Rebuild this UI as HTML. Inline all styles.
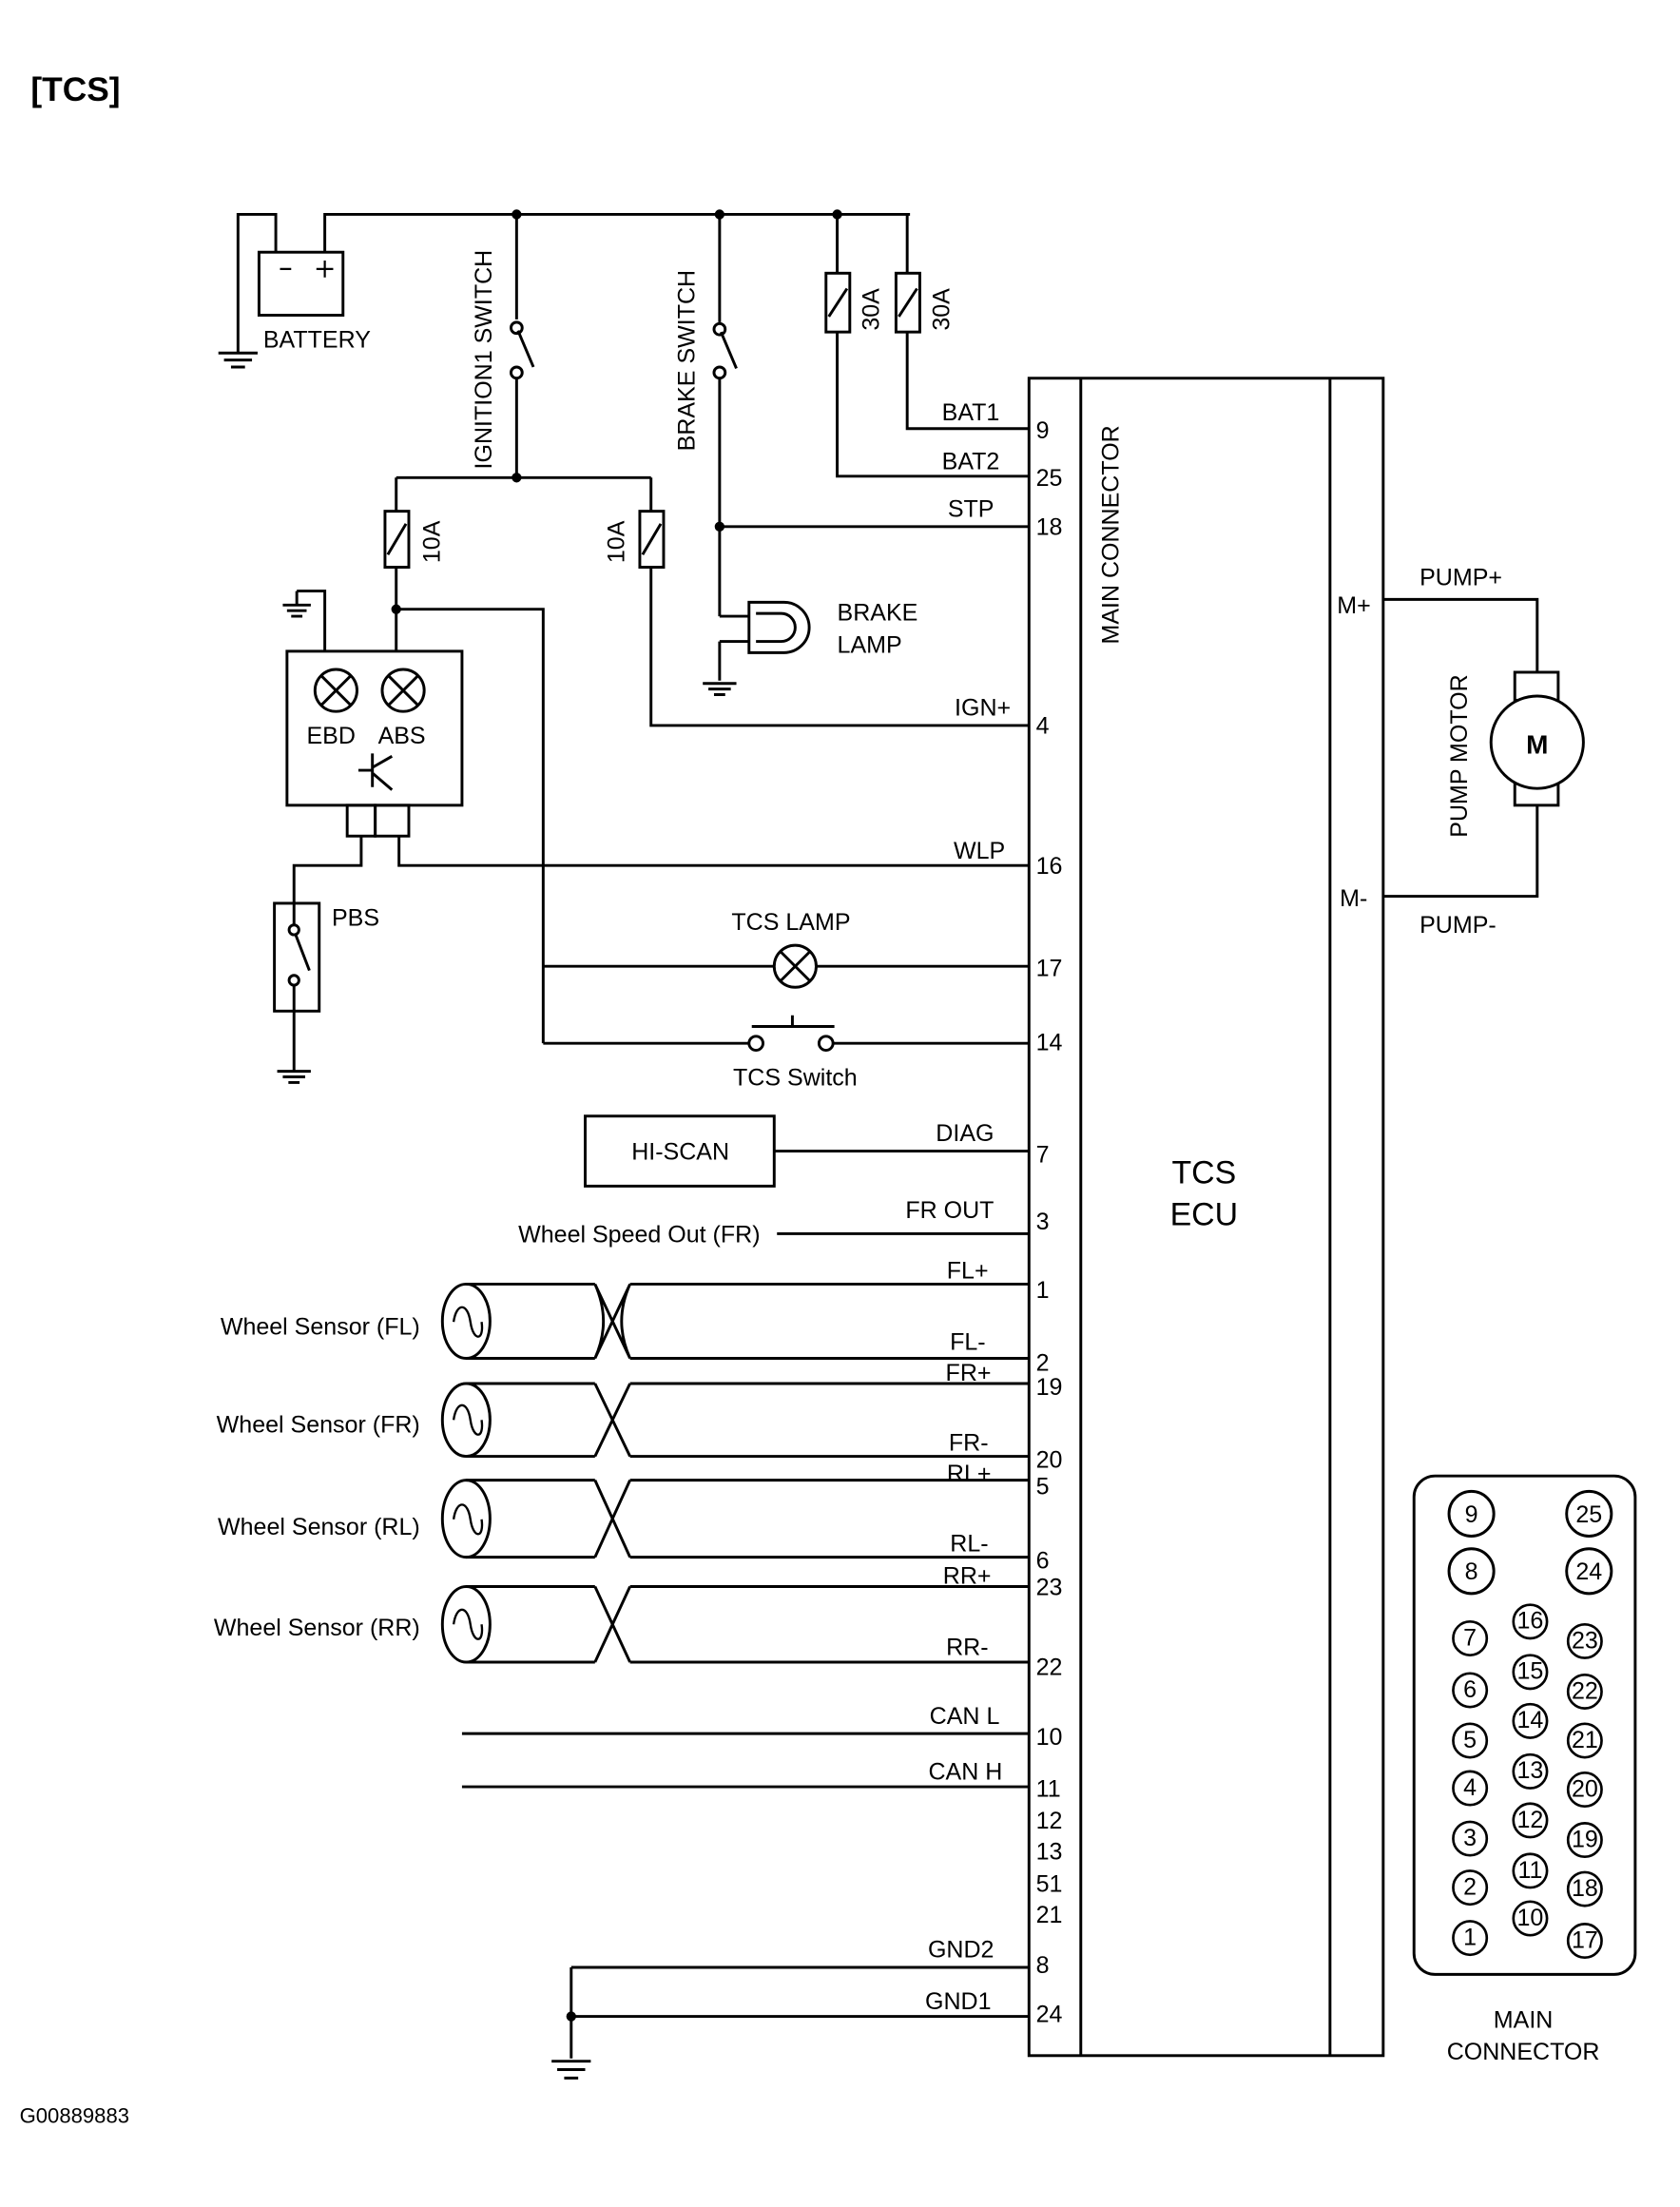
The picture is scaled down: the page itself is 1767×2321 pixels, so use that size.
<!DOCTYPE html>
<html><head><meta charset="utf-8"><style>
html,body{margin:0;padding:0;background:#fff;}
svg{display:block;}
text{font-family:"Liberation Sans",sans-serif;font-size:17px;fill:#000;}
</style></head><body>
<svg width="1767" height="2321" viewBox="0 0 1200 1576" xmlns="http://www.w3.org/2000/svg">
<g fill="none" stroke="#000" stroke-width="2">
<!-- battery -->
<rect x="185" y="180" width="60" height="45"/>
<path d="M170 252V153H197V180M232 180V153H650"/>
<path d="M156 252H184M160 257H180M165 262H175"/>
<path d="M200 192H208M226 192H238M232 186V198" stroke-width="1.5"/>
<!-- ignition switch -->
<path d="M369 153V228M369 270V341"/>
<circle cx="369" cy="234" r="4"/><circle cx="369" cy="266" r="4"/>
<path d="M370 236L381 262"/>
<!-- brake switch -->
<path d="M514 153V230M514 270V440M514 458V486"/>
<circle cx="514" cy="235" r="4"/><circle cx="514" cy="266" r="4"/>
<path d="M515 237L526 263"/>
<path d="M502 488H526M506 492H522M510 496H518"/>
<!-- brake lamp -->
<path d="M514 440H535M514 458H535"/>
<path d="M535 430H560A18 18 0 0 1 560 466H535Z"/>
<path d="M540 438H558A10 10 0 0 1 558 458H540"/>
<!-- 30A fuses -->
<path d="M598 153V195M598 237V340H735M648 153V195M648 237V306H735"/>
<rect x="590" y="195" width="17" height="42"/><rect x="640" y="195" width="17" height="42"/>
<path d="M592 226L605 206M642 226L655 206"/>
<!-- 10A fuses -->
<path d="M283 341H465M283 341V365M283 405V465M465 341V365M465 405V518H735"/>
<rect x="275" y="365" width="17" height="40"/><rect x="457" y="365" width="17" height="40"/>
<path d="M277 396L290 374M459 396L472 374"/>
<path d="M283 435H388V745"/>
<!-- STP -->
<path d="M514 376H735"/>
<!-- module -->
<rect x="205" y="465" width="125" height="110"/>
<path d="M232 465V422H212M212 422V432M202 432H222M205 436H219M208 440H216"/>
<circle cx="240" cy="493" r="15"/><circle cx="288" cy="493" r="15"/>
<path d="M229 482L251 504M251 482L229 504M277 482L299 504M299 482L277 504"/>
<path d="M256 550H266M266 538V562M266 548L280 540M266 552L280 564"/>
<rect x="248" y="575" width="20" height="22"/><rect x="268" y="575" width="24" height="22"/>
<path d="M285 597V618H735M258 597V618H210V645"/>
<!-- PBS -->
<rect x="196" y="645" width="32" height="77"/>
<path d="M210 645V660M210 704V765"/>
<circle cx="210" cy="664" r="3.5"/><circle cx="210" cy="700" r="3.5"/>
<path d="M211 667L221 693"/>
<path d="M198 765H222M202 769H218M206 773H214"/>
<!-- TCS lamp -->
<path d="M388 690H553M583 690H735"/>
<circle cx="568" cy="690" r="15"/>
<path d="M557 679L579 701M579 679L557 701"/>
<!-- TCS switch -->
<path d="M388 745H535M595 745H735"/>
<circle cx="540" cy="745" r="5"/><circle cx="590" cy="745" r="5"/>
<path d="M537 733H596M566 725V733"/>
<!-- HI-SCAN -->
<rect x="418" y="797" width="135" height="50"/>
<path d="M553 822H735M555 881H735"/>
<!-- sensors -->
<g id="s">
</g>
<path d="M333 917H425M333 970H425M450 917H735M450 970H735M425 917L450 970M450 917L425 970M425 917C433 935 433 952 425 970M450 917C442 935 442 952 450 970"/>
<ellipse cx="333" cy="943.5" rx="17" ry="26.5"/>
<path d="M333 988H425M333 1040H425M450 988H735M450 1040H735M425 988L450 1040M450 988L425 1040"/>
<ellipse cx="333" cy="1014" rx="17" ry="26"/>
<path d="M333 1057H425M333 1112H425M450 1057H735M450 1112H735M425 1057L450 1112M450 1057L425 1112"/>
<ellipse cx="333" cy="1084.5" rx="17" ry="27.5"/>
<path d="M333 1133H425M333 1187H425M450 1133H735M450 1187H735M425 1133L450 1187M450 1133L425 1187"/>
<ellipse cx="333" cy="1160" rx="17" ry="27"/>
<path d="M324 944C326 930 334 930 336 944S346 958 344 944M324 1014C326 1000 334 1000 336 1014S346 1028 344 1014M324 1085C326 1071 334 1071 336 1085S346 1099 344 1085M324 1160C326 1146 334 1146 336 1160S346 1174 344 1160" stroke-width="1.6"/>
<!-- CAN / GND -->
<path d="M330 1238H735M330 1276H735M408 1405H735M408 1440H735M408 1405V1470"/>
<path d="M394 1472H422M398 1478H418M403 1484H413"/>
<!-- ECU -->
<rect x="735" y="270" width="253" height="1198"/>
<path d="M772 270V1468M950 270V1468"/>
<!-- pump motor -->
<path d="M988 428H1098V480M1098 575V640H988"/>
<rect x="1082" y="480" width="31" height="20"/><rect x="1082" y="557" width="31" height="18"/>
<circle cx="1098" cy="530" r="33" fill="#fff"/>
<!-- main connector -->
<rect x="1010" y="1054" width="158" height="356" rx="15"/>
<circle cx="1051" cy="1081" r="16"/><circle cx="1135" cy="1081" r="16"/>
<circle cx="1051" cy="1122" r="16"/><circle cx="1135" cy="1122" r="16"/>
<g stroke-width="1.8">
<circle cx="1050" cy="1170" r="12"/><circle cx="1050" cy="1207" r="12"/><circle cx="1050" cy="1243" r="12"/><circle cx="1050" cy="1277" r="12"/><circle cx="1050" cy="1313" r="12"/><circle cx="1050" cy="1348" r="12"/><circle cx="1050" cy="1384" r="12"/>
<circle cx="1093" cy="1158" r="12"/><circle cx="1093" cy="1194" r="12"/><circle cx="1093" cy="1229" r="12"/><circle cx="1093" cy="1265" r="12"/><circle cx="1093" cy="1300" r="12"/><circle cx="1093" cy="1336" r="12"/><circle cx="1093" cy="1370" r="12"/>
<circle cx="1132" cy="1172" r="12"/><circle cx="1132" cy="1208" r="12"/><circle cx="1132" cy="1243" r="12"/><circle cx="1132" cy="1278" r="12"/><circle cx="1132" cy="1314" r="12"/><circle cx="1132" cy="1349" r="12"/><circle cx="1132" cy="1386" r="12"/>
</g>
</g>
<!-- junction dots -->
<g fill="#000">
<circle cx="369" cy="153" r="3.5"/><circle cx="514" cy="153" r="3.5"/><circle cx="598" cy="153" r="3.5"/>
<circle cx="369" cy="341" r="3.5"/><circle cx="283" cy="435" r="3.5"/><circle cx="514" cy="376" r="3.5"/><circle cx="408" cy="1440" r="3.5"/>
</g>
<!-- text -->
<text x="22" y="72" style="font-size:24px;font-weight:bold">[TCS]</text>
<text x="188" y="248">BATTERY</text>
<text transform="translate(351,335) rotate(-90)">IGNITION1 SWITCH</text>
<text transform="translate(496,322) rotate(-90)">BRAKE SWITCH</text>
<text transform="translate(628,236) rotate(-90)">30A</text>
<text transform="translate(678,236) rotate(-90)">30A</text>
<text transform="translate(314,402) rotate(-90)">10A</text>
<text transform="translate(446,402) rotate(-90)">10A</text>
<text x="598" y="443">BRAKE</text><text x="598" y="466">LAMP</text>
<text x="219" y="531">EBD</text><text x="270" y="531">ABS</text>
<text x="237" y="661">PBS</text>
<text x="565" y="664" text-anchor="middle">TCS LAMP</text>
<text x="568" y="775" text-anchor="middle">TCS Switch</text>
<text x="486" y="828" text-anchor="middle">HI-SCAN</text>
<text x="543" y="887" text-anchor="end">Wheel Speed Out (FR)</text>
<text x="300" y="953" text-anchor="end">Wheel Sensor (FL)</text>
<text x="300" y="1023" text-anchor="end">Wheel Sensor (FR)</text>
<text x="300" y="1096" text-anchor="end">Wheel Sensor (RL)</text>
<text x="300" y="1168" text-anchor="end">Wheel Sensor (RR)</text>
<g text-anchor="end">
<text x="714" y="300">BAT1</text><text x="714" y="335">BAT2</text><text x="710" y="369">STP</text>
<text x="722" y="511">IGN+</text><text x="718" y="613">WLP</text><text x="710" y="815">DIAG</text>
<text x="710" y="870">FR OUT</text><text x="706" y="913">FL+</text><text x="704" y="964">FL-</text>
<text x="708" y="986">FR+</text><text x="706" y="1036">FR-</text><text x="708" y="1058">RL+</text>
<text x="706" y="1108">RL-</text><text x="708" y="1131">RR+</text><text x="706" y="1182">RR-</text>
<text x="714" y="1231">CAN L</text><text x="716" y="1271">CAN H</text>
<text x="710" y="1398">GND2</text><text x="708" y="1435">GND1</text>
</g>
<g>
<text x="740" y="313">9</text><text x="740" y="347">25</text><text x="740" y="382">18</text>
<text x="740" y="524">4</text><text x="740" y="624">16</text><text x="740" y="697">17</text>
<text x="740" y="750">14</text><text x="740" y="830">7</text><text x="740" y="878">3</text>
<text x="740" y="927">1</text><text x="740" y="979">2</text><text x="740" y="996">19</text>
<text x="740" y="1048">20</text><text x="740" y="1067">5</text><text x="740" y="1120">6</text>
<text x="740" y="1139">23</text><text x="740" y="1196">22</text><text x="740" y="1246">10</text>
<text x="740" y="1283">11</text><text x="740" y="1306">12</text><text x="740" y="1328">13</text>
<text x="740" y="1351">51</text><text x="740" y="1373">21</text><text x="740" y="1409">8</text>
<text x="740" y="1444">24</text>
</g>
<text transform="translate(799,460) rotate(-90)">MAIN CONNECTOR</text>
<text x="860" y="845" text-anchor="middle" style="font-size:23px">TCS</text>
<text x="860" y="875" text-anchor="middle" style="font-size:23px">ECU</text>
<text x="955" y="438">M+</text><text x="957" y="647">M-</text>
<text x="1014" y="418">PUMP+</text><text x="1014" y="666">PUMP-</text>
<text transform="translate(1048,598) rotate(-90)">PUMP MOTOR</text>
<text x="1098" y="538" text-anchor="middle" style="font-weight:bold;font-size:19px">M</text>
<g text-anchor="middle" style="font-size:15px">
<text x="1051" y="1087">9</text><text x="1135" y="1087">25</text><text x="1051" y="1128">8</text><text x="1135" y="1128">24</text>
</g>
<g text-anchor="middle" style="font-size:13px">
<text x="1050" y="1175">7</text><text x="1050" y="1212">6</text><text x="1050" y="1248">5</text><text x="1050" y="1282">4</text><text x="1050" y="1318">3</text><text x="1050" y="1353">2</text><text x="1050" y="1389">1</text>
<text x="1093" y="1163">16</text><text x="1093" y="1199">15</text><text x="1093" y="1234">14</text><text x="1093" y="1270">13</text><text x="1093" y="1305">12</text><text x="1093" y="1341">11</text><text x="1093" y="1375">10</text>
<text x="1132" y="1177">23</text><text x="1132" y="1213">22</text><text x="1132" y="1248">21</text><text x="1132" y="1283">20</text><text x="1132" y="1319">19</text><text x="1132" y="1354">18</text><text x="1132" y="1391">17</text>
</g>
<text x="1088" y="1448" text-anchor="middle">MAIN</text>
<text x="1088" y="1471" text-anchor="middle">CONNECTOR</text>
<text x="14" y="1516" style="font-size:15px">G00889883</text>
</svg>
</body></html>
